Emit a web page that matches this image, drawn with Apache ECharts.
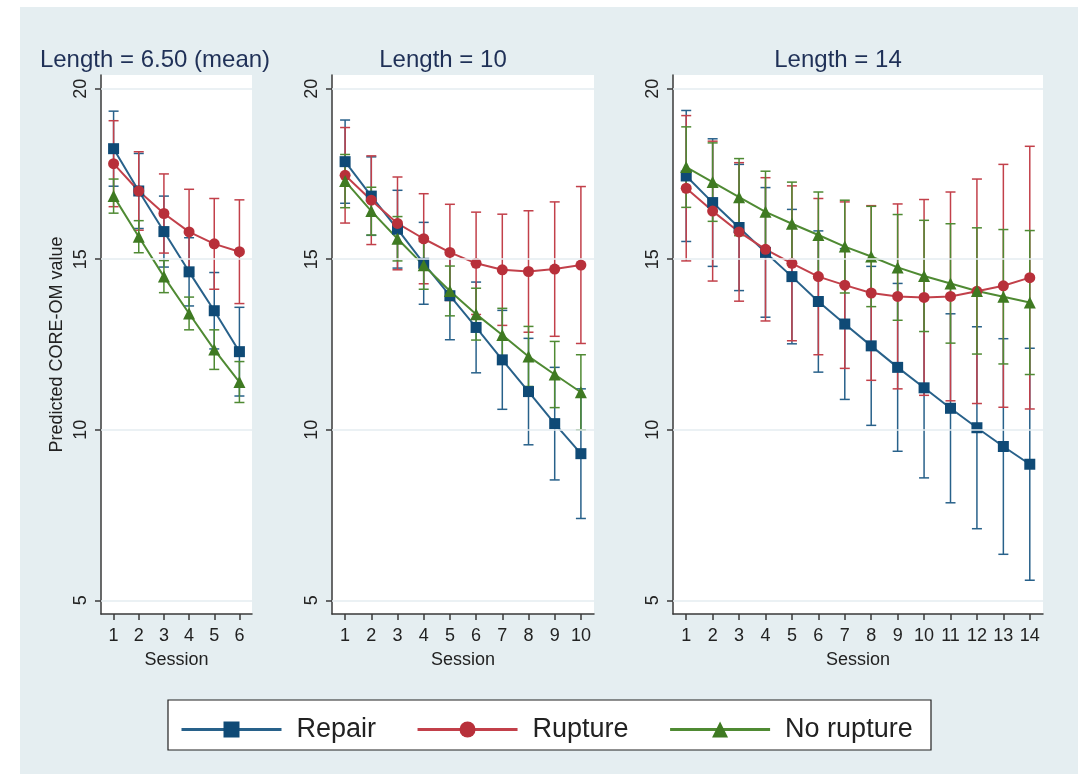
<!DOCTYPE html>
<html>
<head>
<meta charset="utf-8">
<script src="https://cdn.jsdelivr.net/npm/echarts@6/dist/echarts.min.js"></script>
<style>
  html, body { margin: 0; padding: 0; background: #fff; }
  #chart { width: 1084px; height: 774px; }
</style>
</head>
<body>
<div id="chart"></div>
<script>
// sessions per panel
const sessions6 = [1, 2, 3, 4, 5, 6];
const sessions10 = [1, 2, 3, 4, 5, 6, 7, 8, 9, 10];
const sessions14 = [1, 2, 3, 4, 5, 6, 7, 8, 9, 10, 11, 12, 13, 14];
const yTicks = [5, 10, 15, 20];
const panelTitles = ["Length = 6.50 (mean)", "Length = 10", "Length = 14"];
const groupNames = ["Repair", "Rupture", "No rupture"];

// Length = 6.50 (mean): predicted value and 95% CI half width
const repair6 = [18.24, 17.0, 15.81, 14.63, 13.49, 12.29];
const repairCi6 = [1.1, 1.1, 1.04, 1.0, 1.12, 1.3];
const rupture6 = [17.8, 17.0, 16.34, 15.8, 15.45, 15.22];
const ruptureCi6 = [1.26, 1.15, 1.16, 1.25, 1.33, 1.52];
const noRupture6 = [16.85, 15.66, 14.49, 13.41, 12.35, 11.4];
const noRuptureCi6 = [0.5, 0.47, 0.47, 0.48, 0.58, 0.6];

// Length = 10
const repair10 = [17.86, 16.85, 15.88, 14.88, 13.93, 13.0, 12.05, 11.12, 10.18, 9.3];
const repairCi10 = [1.22, 1.15, 1.14, 1.2, 1.29, 1.33, 1.45, 1.56, 1.65, 1.9];
const rupture10 = [17.46, 16.73, 16.05, 15.6, 15.2, 14.88, 14.69, 14.64, 14.71, 14.83];
const ruptureCi10 = [1.4, 1.3, 1.36, 1.32, 1.41, 1.5, 1.63, 1.78, 1.97, 2.3];
const noRupture10 = [17.29, 16.41, 15.6, 14.82, 14.07, 13.39, 12.78, 12.15, 11.62, 11.1];
const noRuptureCi10 = [0.78, 0.7, 0.65, 0.7, 0.73, 0.76, 0.78, 0.88, 0.97, 1.1];

// Length = 14
const repair14 = [17.44, 16.66, 15.93, 15.2, 14.49, 13.76, 13.1, 12.46, 11.83, 11.23, 10.63, 10.06, 9.51, 8.99];
const repairCi14 = [1.92, 1.87, 1.85, 1.9, 1.97, 2.07, 2.21, 2.33, 2.46, 2.64, 2.77, 2.96, 3.16, 3.4];
const rupture14 = [17.08, 16.41, 15.8, 15.29, 14.88, 14.49, 14.24, 14.01, 13.91, 13.88, 13.91, 14.06, 14.22, 14.46];
const ruptureCi14 = [2.13, 2.05, 2.03, 2.1, 2.27, 2.29, 2.44, 2.56, 2.71, 2.87, 3.06, 3.29, 3.56, 3.85];
const noRupture14 = [17.7, 17.26, 16.82, 16.39, 16.04, 15.71, 15.37, 15.08, 14.76, 14.51, 14.29, 14.07, 13.9, 13.73];
const noRuptureCi14 = [1.18, 1.15, 1.13, 1.19, 1.22, 1.26, 1.36, 1.47, 1.55, 1.63, 1.75, 1.85, 1.97, 2.11];

const lineColors = ["#28618a", "#c2404a", "#4f8a33"];
const markerColors = ["#0f4a76", "#b8303a", "#3f7a22"];
const symbols = ["rect", "circle", "triangle"];
const symbolSizes = [11, 11, 12];

const font = "'Liberation Sans', Arial, Helvetica, sans-serif";
const textColor = "#222";

const panels = [
  { sessions: sessions6, means: [repair6, rupture6, noRupture6], cis: [repairCi6, ruptureCi6, noRuptureCi6],
    left: 101, width: 151, titleX: 150 },
  { sessions: sessions10, means: [repair10, rupture10, noRupture10], cis: [repairCi10, ruptureCi10, noRuptureCi10],
    left: 332, width: 262, titleX: 438 },
  { sessions: sessions14, means: [repair14, rupture14, noRupture14], cis: [repairCi14, ruptureCi14, noRuptureCi14],
    left: 673, width: 370, titleX: 833 }
];

function renderErrorBar(params, api) {
  const x = api.value(0);
  const lo = api.coord([x, api.value(1)]);
  const hi = api.coord([x, api.value(2)]);
  const half = 5;
  const style = { stroke: api.visual("color"), lineWidth: 1.5 };
  return {
    type: "group",
    children: [
      { type: "line", shape: { x1: lo[0], y1: lo[1], x2: hi[0], y2: hi[1] }, style },
      { type: "line", shape: { x1: lo[0] - half, y1: lo[1], x2: lo[0] + half, y2: lo[1] }, style },
      { type: "line", shape: { x1: hi[0] - half, y1: hi[1], x2: hi[0] + half, y2: hi[1] }, style }
    ]
  };
}

const grids = [];
const xAxes = [];
const yAxes = [];
const titles = [];
const series = [];

panels.forEach((p, k) => {
  grids.push({
    left: p.left, top: 75, width: p.width, height: 539,
    show: true, backgroundColor: "#fff", borderWidth: 0
  });
  titles.push({
    text: panelTitles[k], left: p.titleX, top: 43, textAlign: "center",
    textStyle: { fontFamily: font, fontSize: 24, fontWeight: "normal", color: "#1f3057" }
  });
  xAxes.push({
    type: "value", gridIndex: k, min: 0.5, max: p.sessions.length + 0.5,
    name: "Session", nameLocation: "middle", nameGap: 37,
    nameTextStyle: { fontFamily: font, fontSize: 18, color: textColor },
    axisLine: { lineStyle: { color: "#3a3a3a", width: 1.5 } },
    axisTick: { customValues: p.sessions, length: 6, lineStyle: { color: "#3a3a3a", width: 1.5 } },
    axisLabel: { customValues: p.sessions, fontFamily: font, fontSize: 18, color: textColor, margin: 13 },
    splitLine: { show: false }
  });
  yAxes.push({
    type: "value", gridIndex: k, min: 4.6, max: 20.4,
    name: k === 0 ? "Predicted CORE-OM value" : "",
    nameLocation: "middle", nameGap: 35,
    nameTextStyle: { fontFamily: font, fontSize: 18, color: textColor },
    axisLine: { show: true, lineStyle: { color: "#3a3a3a", width: 1.5 } },
    axisTick: { show: true, customValues: yTicks, length: 6, lineStyle: { color: "#3a3a3a", width: 1.5 } },
    axisLabel: { customValues: yTicks, rotate: 90, fontFamily: font, fontSize: 18, color: textColor, margin: 11 },
    splitLine: { show: false }
  });

  // light grid lines at the labelled ticks
  series.push({
    type: "line", name: "grid", xAxisIndex: k, yAxisIndex: k, data: [],
    silent: true,
    markLine: {
      silent: true, symbol: "none", label: { show: false },
      lineStyle: { color: "#e4edf1", width: 1.5, type: "solid" },
      data: yTicks.map((v) => ({ yAxis: v }))
    }
  });

  // confidence intervals
  p.means.forEach((m, g) => {
    series.push({
      type: "custom", name: groupNames[g] + " CI", xAxisIndex: k, yAxisIndex: k,
      itemStyle: { color: lineColors[g] },
      renderItem: renderErrorBar,
      encode: { x: 0, y: [1, 2] },
      data: p.sessions.map((s, i) => [s, m[i] - p.cis[g][i], m[i] + p.cis[g][i]]),
      z: 2
    });
  });

  // predicted values
  p.means.forEach((m, g) => {
    series.push({
      type: "line", name: groupNames[g], xAxisIndex: k, yAxisIndex: k,
      data: p.sessions.map((s, i) => [s, m[i]]),
      symbol: symbols[g], symbolSize: symbolSizes[g],
      lineStyle: { color: lineColors[g], width: 2 },
      itemStyle: { color: markerColors[g] },
      z: 3
    });
  });
});

const chart = echarts.init(document.getElementById("chart"));
chart.setOption({
  animation: false,
  backgroundColor: "#fff",
  textStyle: { fontFamily: font },
  title: titles,
  grid: grids,
  xAxis: xAxes,
  yAxis: yAxes,
  legend: {
    data: groupNames,
    left: 175, top: 711,
    itemWidth: 100, itemHeight: 20, itemGap: 40,
    lineStyle: { width: 3 },
    textStyle: { fontFamily: font, fontSize: 27, color: textColor, padding: [0, 0, 0, 10] }
  },
  graphic: [
    { type: "rect", z: -10, shape: { x: 20, y: 7, width: 1058, height: 767 }, style: { fill: "#e5eef1" } },
    { type: "rect", z: -5, shape: { x: 168, y: 700, width: 763, height: 50 }, style: { fill: "#fff", stroke: "#222", lineWidth: 1.2 } }
  ],
  series: series
});
</script>
</body>
</html>
